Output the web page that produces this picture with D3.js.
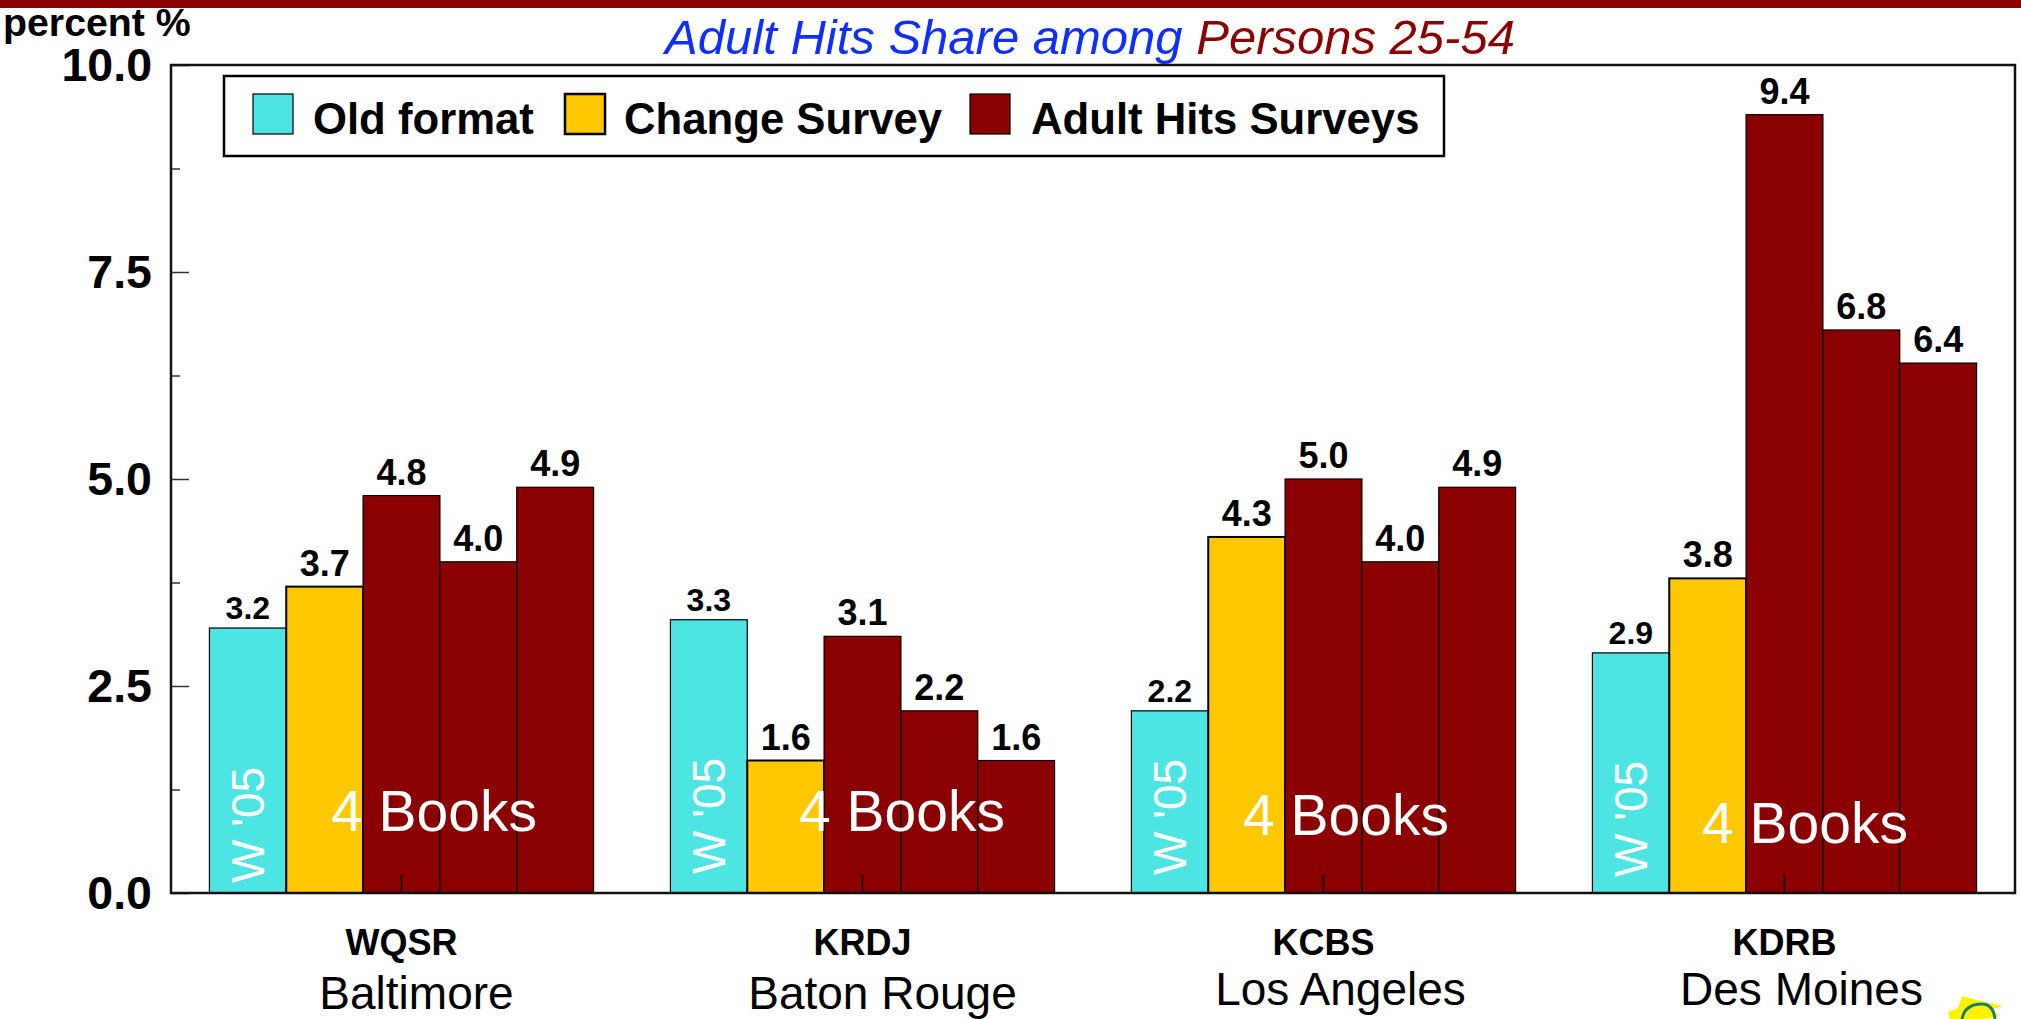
<!DOCTYPE html>
<html><head><meta charset="utf-8">
<script src="https://cdn.jsdelivr.net/npm/d3@7"></script>
<style>html,body{margin:0;padding:0;background:#fff;overflow:hidden}svg{display:block}text{font-family:"Liberation Sans",Arial,sans-serif}</style>
</head><body><svg id="c" width="2021" height="1019"></svg>
<script>
const stations=["WQSR","KRDJ","KCBS","KDRB"];
const markets=["Baltimore","Baton Rouge","Los Angeles","Des Moines"];
const surveys=["s1","s2","s3","s4","s5"];
const wqsr=[3.2,3.7,4.8,4.0,4.9];
const krdj=[3.3,1.6,3.1,2.2,1.6];
const kcbs=[2.2,4.3,5.0,4.0,4.9];
const kdrb=[2.9,3.8,9.4,6.8,6.4];
const groups=[wqsr,krdj,kcbs,kdrb];
const seriesNames=["Old format","Change Survey","Adult Hits Surveys"];
const seriesColors=["#4DE5E3","#FFC800","#8B0000"];
const yTicks=[0,2.5,5,7.5,10];
const yMinor=[1.25,3.75,6.25,8.75];
const marketOffsets=[[15,1009],[20,1009],[17,1005],[17,1005]];
const booksPos=[[434,831],[902,831],[1346,835],[1805,843]];
const w05Y=[[883],[874],[875],[877]];

const svg=d3.select("#c");
const L=171,R=2015,T=65,B=893;
const x0=d3.scaleBand().domain(stations).range([L,R]).paddingInner(1/6).paddingOuter(1/12);
const x1=d3.scaleBand().domain(surveys).range([0,x0.bandwidth()]);
const y=d3.scaleLinear().domain([0,10]).range([B,T]);
const colorOf=i=>i===0?seriesColors[0]:i===1?seriesColors[1]:seriesColors[2];

svg.append("rect").attr("x",0).attr("y",0).attr("width",2021).attr("height",8).attr("fill","#8B0000");

// title
const title=svg.append("text").attr("x",1090).attr("y",54).attr("text-anchor","middle").attr("font-size",49).attr("font-style","italic");
title.append("tspan").attr("fill","#0F2FFF").text("Adult Hits Share among ");
title.append("tspan").attr("fill","#8B0000").text("Persons 25-54");
svg.append("text").attr("x",3).attr("y",35.5).attr("font-size",39.3).attr("font-weight","bold").text("percent %");

// bars
const gs=svg.selectAll("g.grp").data(groups).join("g").attr("class","grp").attr("transform",(d,i)=>`translate(${x0(stations[i])},0)`);
gs.selectAll("rect").data(d=>d).join("rect")
 .attr("x",(d,i)=>x1(surveys[i])).attr("width",x1.bandwidth())
 .attr("y",d=>y(d)).attr("height",d=>B-y(d))
 .attr("fill",(d,i)=>colorOf(i)).attr("stroke","#000").attr("stroke-width",(d,i)=>i===1?2:1.2);
gs.selectAll("text.v").data(d=>d).join("text").attr("class","v")
 .attr("x",(d,i)=>x1(surveys[i])+x1.bandwidth()/2).attr("y",(d,i)=>y(d)-(i===0?9:11))
 .attr("text-anchor","middle").attr("font-weight","bold")
 .attr("font-size",(d,i)=>i===0?32:36).text(d=>d.toFixed(1));

// white labels
svg.selectAll("text.b").data(booksPos).join("text").attr("class","b")
 .attr("x",d=>d[0]).attr("y",d=>d[1]).attr("text-anchor","middle").attr("fill","#fff").attr("font-size",57).text("4 Books");
svg.selectAll("text.w").data(stations).join("text").attr("class","w")
 .attr("transform",(d,i)=>`translate(${x0(d)+x1.bandwidth()/2+16},${w05Y[i][0]}) rotate(-90)`)
 .attr("fill","#fff").attr("font-size",46).text("W '05");

// axes
const yAxis=d3.axisLeft(y).tickValues(yTicks).tickSize(-18).tickPadding(19).tickFormat(d3.format(".1f"));
const gy=svg.append("g").attr("transform",`translate(${L},0)`).call(yAxis);
gy.select(".domain").remove();
gy.selectAll("line").attr("stroke","#333").attr("stroke-width",1.5);
gy.selectAll("text").attr("font-size",46.5).attr("font-weight","bold").attr("fill","#000").attr("dy","0.34em");
const gm=svg.append("g").attr("transform",`translate(${L},0)`).call(d3.axisLeft(y).tickValues(yMinor).tickSize(-9).tickFormat(""));
gm.select(".domain").remove();
gm.selectAll("line").attr("stroke","#333").attr("stroke-width",1.5);
const gx=svg.append("g").attr("transform",`translate(0,${B})`).call(d3.axisBottom(x0).tickSize(-18).tickFormat(""));
gx.select(".domain").remove();
gx.selectAll("line").attr("stroke","#000").attr("stroke-width",1.5);
svg.append("rect").attr("x",L).attr("y",T).attr("width",R-L).attr("height",B-T).attr("fill","none").attr("stroke","#111").attr("stroke-width",2.5);

// category labels
svg.selectAll("text.st").data(stations).join("text").attr("class","st")
 .attr("x",d=>x0(d)+x0.bandwidth()/2).attr("y",955).attr("text-anchor","middle").attr("font-weight","bold").attr("font-size",36).text(d=>d);
svg.selectAll("text.mk").data(markets).join("text").attr("class","mk")
 .attr("x",(d,i)=>x0(stations[i])+x0.bandwidth()/2+marketOffsets[i][0]).attr("y",(d,i)=>marketOffsets[i][1])
 .attr("text-anchor","middle").attr("font-size",46).text(d=>d);

// legend
svg.append("rect").attr("x",224).attr("y",76).attr("width",1220).attr("height",80).attr("fill","#fff").attr("stroke","#000").attr("stroke-width",2.5);
const legX=[253,565,970],legT=[313,624,1031];
seriesNames.forEach((n,i)=>{
 svg.append("rect").attr("x",legX[i]).attr("y",94).attr("width",40).attr("height",40).attr("fill",seriesColors[i]).attr("stroke","#000").attr("stroke-width",i===1?2.5:1.2);
 svg.append("text").attr("x",legT[i]).attr("y",134).attr("font-size",43.7).attr("font-weight","bold").text(n);
});

// corner logo
svg.append("path").attr("d","M1962 996 L1985 1002 L2003 1006 L1990 1010 L2000 1016 L1985 1019 L1950 1019 L1948 1012 L1958 1008 Z").attr("fill","#FFF200");
svg.append("path").attr("d","M1962 1019 C1964 1008 1972 1004 1982 1004 C1991 1004 1994 1011 1995 1019").attr("fill","none").attr("stroke","#1A7F6A").attr("stroke-width",3);
</script></body></html>
